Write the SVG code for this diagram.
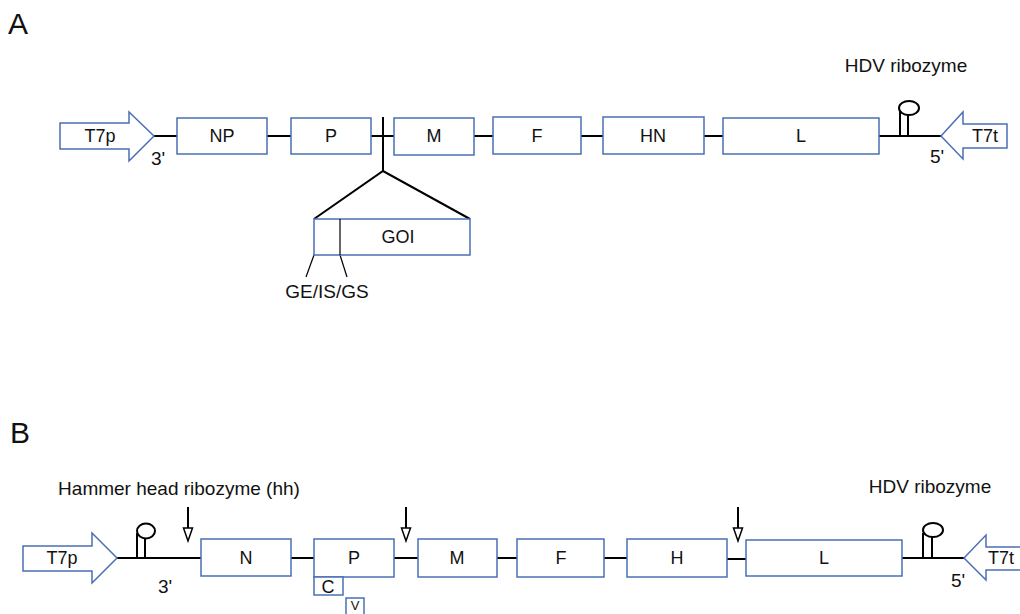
<svg xmlns="http://www.w3.org/2000/svg" width="1020" height="614" viewBox="0 0 1020 614">
<defs>
<style>
text{font-family:"Liberation Sans",Arial,sans-serif;fill:#111}
.box{fill:#fff;stroke:#4a6fb5;stroke-width:1.5}
.ln{stroke:#000;stroke-width:2;fill:none}
.thin{stroke:#000;stroke-width:1.2;fill:none}
.lbl{font-size:18px;text-anchor:middle}
.ann{font-size:19px;text-anchor:middle}
.pan{font-size:30px}
.loop{fill:#fff;stroke:#000;stroke-width:2}
.head{fill:#fff;stroke:#000;stroke-width:1.5}
</style>
</defs>
<rect width="1020" height="614" fill="#fff"/>
<text class="pan" x="8" y="34">A</text>
<text class="pan" x="10" y="443">B</text>

<!-- Panel A connectors -->
<g id="connectors-a">
<line class="ln" x1="154" y1="136" x2="177" y2="136"/>
<line class="ln" x1="267" y1="136" x2="291" y2="136"/>
<line class="ln" x1="371" y1="136" x2="394" y2="136"/>
<line class="ln" x1="474" y1="136" x2="493" y2="136"/>
<line class="ln" x1="581" y1="136" x2="603" y2="136"/>
<line class="ln" x1="704" y1="136" x2="723" y2="136"/>
<line class="ln" x1="879" y1="136" x2="941" y2="136"/>
<line class="ln" x1="383" y1="117" x2="383" y2="171"/>
<polyline class="ln" points="314,219 383,171 470,219"/>
<line class="thin" x1="314" y1="255" x2="306" y2="277"/>
<line class="thin" x1="340" y1="255" x2="347" y2="277"/>
</g>

<g id="a-t7p">
<polygon class="box" points="60,123 129,123 129,112 154,136 129,161 129,149 60,149"/>
<text class="lbl" x="100" y="142">T7p</text>
</g>
<text class="ann" x="158" y="165">3'</text>
<g id="a-np"><rect class="box" x="177" y="118" width="90" height="36"/><text class="lbl" x="222" y="142">NP</text></g>
<g id="a-p"><rect class="box" x="291" y="118" width="80" height="36"/><text class="lbl" x="331" y="142">P</text></g>
<g id="a-m"><rect class="box" x="394" y="118" width="80" height="37"/><text class="lbl" x="434" y="142">M</text></g>
<g id="a-f"><rect class="box" x="493" y="117" width="88" height="37"/><text class="lbl" x="537" y="142">F</text></g>
<g id="a-hn"><rect class="box" x="603" y="117" width="101" height="37"/><text class="lbl" x="653" y="142">HN</text></g>
<g id="a-l"><rect class="box" x="723" y="118" width="156" height="36"/><text class="lbl" x="801" y="142">L</text></g>
<g id="a-hdv">
<line class="ln" x1="900" y1="136" x2="900" y2="110"/>
<line class="ln" x1="908" y1="136" x2="908" y2="110"/>
<ellipse class="loop" cx="909" cy="108" rx="10" ry="7"/>
<text class="ann" x="906" y="72">HDV ribozyme</text>
</g>
<g id="a-t7t">
<polygon class="box" points="941,136 963,112 963,124 1007,124 1007,148 963,148 963,159"/>
<text class="lbl" x="985" y="142">T7t</text>
</g>
<text class="ann" x="937" y="163">5'</text>
<g id="a-goi">
<rect class="box" x="314" y="219" width="156" height="36"/>
<line class="thin" x1="340" y1="219" x2="340" y2="255"/>
<text class="lbl" x="398" y="243">GOI</text>
</g>
<text class="ann" x="327" y="298">GE/IS/GS</text>

<!-- Panel B connectors -->
<g id="connectors-b">
<line class="ln" x1="117" y1="558" x2="201" y2="558"/>
<line class="ln" x1="291" y1="558" x2="314" y2="558"/>
<line class="ln" x1="394" y1="558" x2="418" y2="558"/>
<line class="ln" x1="497" y1="558" x2="517" y2="558"/>
<line class="ln" x1="604" y1="558" x2="627" y2="558"/>
<line class="ln" x1="727" y1="559" x2="746" y2="559"/>
<line class="ln" x1="902" y1="558" x2="964" y2="558"/>
<line class="ln" x1="188" y1="507" x2="188" y2="529"/>
<polygon class="head" points="183.5,528 192.5,528 188,541"/>
<line class="ln" x1="406" y1="507" x2="406" y2="529"/>
<polygon class="head" points="401.5,528 410.5,528 406,541"/>
<line class="ln" x1="738" y1="507" x2="738" y2="529"/>
<polygon class="head" points="733.5,528 742.5,528 738,541"/>
</g>

<g id="b-t7p">
<polygon class="box" points="23,546 92,546 92,533 117,558 92,583 92,571 23,571"/>
<text class="lbl" x="62" y="564">T7p</text>
</g>
<g id="b-hh">
<line class="ln" x1="137" y1="558" x2="137" y2="533"/>
<line class="ln" x1="145" y1="558" x2="145" y2="533"/>
<ellipse class="loop" cx="146" cy="531" rx="9" ry="7.5"/>
<text class="ann" x="179" y="495">Hammer head ribozyme (hh)</text>
</g>
<text class="ann" x="165" y="593">3'</text>
<g id="b-n"><rect class="box" x="201" y="539" width="90" height="37"/><text class="lbl" x="246" y="564">N</text></g>
<g id="b-p"><rect class="box" x="314" y="539" width="80" height="38"/><text class="lbl" x="354" y="564">P</text></g>
<g id="b-c"><rect class="box" x="314" y="577" width="29" height="18"/><text class="lbl" x="328" y="593">C</text></g>
<g id="b-v"><rect class="box" x="346" y="598" width="18" height="20"/><text class="lbl" x="355" y="610" style="font-size:13px">V</text></g>
<g id="b-m"><rect class="box" x="418" y="539" width="79" height="38"/><text class="lbl" x="457" y="564">M</text></g>
<g id="b-f"><rect class="box" x="517" y="539" width="87" height="38"/><text class="lbl" x="561" y="564">F</text></g>
<g id="b-h"><rect class="box" x="627" y="539" width="100" height="38"/><text class="lbl" x="677" y="564">H</text></g>
<g id="b-l"><rect class="box" x="746" y="540" width="156" height="36"/><text class="lbl" x="824" y="564">L</text></g>
<g id="b-hdv">
<line class="ln" x1="923" y1="558" x2="923" y2="533"/>
<line class="ln" x1="932" y1="558" x2="932" y2="533"/>
<ellipse class="loop" cx="933" cy="530" rx="10" ry="7"/>
<text class="ann" x="930" y="493">HDV ribozyme</text>
</g>
<g id="b-t7t">
<polygon class="box" points="964,558 986,535 986,547 1030,547 1030,570 986,570 986,580"/>
<text class="lbl" x="1001" y="564">T7t</text>
</g>
<text class="ann" x="958" y="587">5'</text>
</svg>
